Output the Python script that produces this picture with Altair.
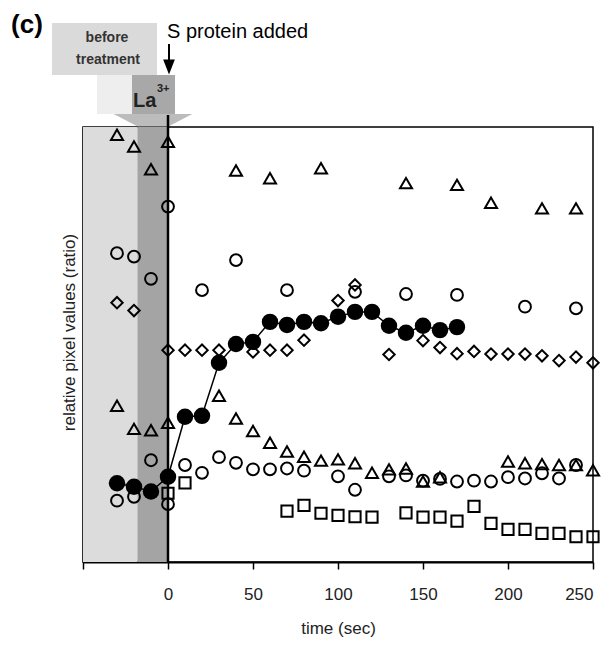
import altair as alt
import pandas as pd

# ---------------- data (time in sec, relative pixel value, arbitrary 0-100 units) ----
filled_t = [-30, -20, -10, 0, 10, 20, 30, 40, 50, 60, 70, 80, 90, 100, 110, 120, 130, 140, 150, 160, 170]
filled_v = [18.1, 17.3, 16.2, 19.6, 33.4, 33.6, 45.8, 50.1, 50.6, 55.2, 54.5, 55.2, 54.9, 56.4, 57.5, 57.5, 54.3, 52.7, 54.3, 53.3, 54.0]

tri_hi_t = [-30, -20, -10, 0, 40, 60, 90, 140, 170, 190, 220, 240]
tri_hi_v = [98.2, 95.5, 90.3, 96.6, 90.0, 88.2, 90.5, 87.1, 86.7, 82.6, 81.3, 81.3]

circ_hi_t = [-30, -20, -10, 0, 20, 40, 70, 110, 140, 170, 210, 240]
circ_hi_v = [71.0, 70.2, 65.1, 81.7, 62.5, 69.4, 62.5, 62.1, 61.6, 61.4, 58.7, 58.3]

diam_t = [-30, -20, 0, 10, 20, 30, 50, 60, 70, 80, 100, 110, 130, 150, 160, 170, 180, 190, 200, 210, 220, 230, 240, 250]
diam_v = [59.6, 57.8, 48.7, 48.7, 48.7, 48.7, 48.3, 48.7, 48.7, 51.0, 60.1, 63.7, 47.7, 50.9, 49.3, 47.9, 48.4, 47.8, 47.8, 47.8, 47.4, 46.3, 47.1, 45.8]

tri_lo_t = [-30, -20, -10, 0, 30, 40, 50, 60, 70, 80, 90, 100, 110, 120, 130, 140, 150, 160, 200, 210, 220, 230, 240, 250]
tri_lo_v = [35.9, 30.6, 30.3, 32.0, 38.2, 33.0, 30.1, 27.4, 25.4, 24.2, 23.3, 23.6, 22.7, 20.5, 21.3, 21.5, 18.5, 19.5, 23.1, 22.7, 22.5, 22.3, 22.3, 21.1]

circ_lo_t = [-30, -20, -10, 0, 10, 20, 30, 40, 50, 60, 70, 80, 100, 110, 130, 140, 150, 160, 170, 180, 190, 200, 210, 220, 230, 240]
circ_lo_v = [14.1, 15.0, 23.4, 13.3, 22.3, 20.5, 24.1, 22.8, 21.3, 21.3, 21.5, 21.0, 19.7, 16.6, 19.7, 19.9, 18.7, 19.1, 18.5, 18.7, 18.5, 19.5, 19.2, 20.4, 19.2, 22.3]

sq_t = [0, 10, 70, 80, 90, 100, 110, 120, 140, 150, 160, 170, 180, 190, 200, 210, 220, 230, 240, 250]
sq_v = [15.8, 18.2, 11.7, 13.0, 11.2, 10.7, 10.4, 10.3, 11.3, 10.3, 10.3, 9.4, 12.8, 8.9, 7.5, 7.5, 6.6, 6.6, 5.8, 5.8]

# shaded periods: before treatment, La3+ treatment
shade_start = [-50, -18]
shade_end = [-18, 0]
shade_color = ["#dcdcdc", "#a4a4a4"]

x_ticks = [-50, 0, 50, 100, 150, 200, 250]

FONT = "Liberation Sans"
W, H = 510, 435
X0 = 85  # pixel position of t = 0 inside the plot

xscale = alt.Scale(domain=[-50, 250], nice=False, zero=False)
yscale = alt.Scale(domain=[0, 100], nice=False, zero=False)

xaxis = alt.Axis(
    values=x_ticks,
    labelExpr="datum.value == -50 ? '' : datum.label",
    title="time (sec)",
    grid=False,
    tickSize=7, tickColor="black", tickWidth=1.5,
    domainColor="black", domainWidth=2,
    labelFont=FONT, labelFontSize=17, labelColor="#222", labelPadding=17,
    titleFont=FONT, titleFontSize=17, titleColor="#222", titleFontWeight="normal",
    titleBaseline="alphabetic", titleY=71,
)
yaxis = alt.Axis(
    labels=False, ticks=False, grid=False,
    domainColor="black", domainWidth=1.5,
    title="relative pixel values (ratio)",
    titleFont=FONT, titleFontSize=17, titleColor="#222", titleFontWeight="normal",
    titleAngle=270, titleAlign="center", titleBaseline="middle",
    titleX=-14, titleY=205,
)

X = alt.X("t:Q", scale=xscale, axis=xaxis)
Y = alt.Y("v:Q", scale=yscale, axis=yaxis)

one = pd.DataFrame({"a": [0]})

# shaded background bands
shade_df = pd.DataFrame({"s": shade_start, "e": shade_end, "c": shade_color})
shade = alt.Chart(shade_df).mark_rect().encode(
    x=alt.X("s:Q", scale=xscale, axis=xaxis),
    x2="e:Q",
    y=alt.Y(datum=0, scale=yscale, axis=yaxis),
    y2=alt.Y2(datum=100),
    color=alt.Color("c:N", scale=None),
)

zero_line = alt.Chart(one).mark_rule(color="black", strokeWidth=2.5).encode(
    x=alt.X(datum=0), y=alt.Y(datum=0), y2=alt.Y2(datum=100)
)


def open_pts(t, v, shape, size):
    df = pd.DataFrame({"t": t, "v": v})
    return alt.Chart(df).mark_point(
        shape=shape, size=size, filled=False, color="black", strokeWidth=2, opacity=1
    ).encode(x=X, y=Y)


filled_df = pd.DataFrame({"t": filled_t, "v": filled_v})
filled_line = alt.Chart(filled_df).mark_line(color="black", strokeWidth=1.5).encode(x=X, y=Y)
filled_pts = alt.Chart(filled_df).mark_point(
    shape="circle", size=270, filled=True, color="black", opacity=1
).encode(x=X, y=Y)

# ---------------- header annotations (pixel positions relative to plot) ----------
def box(x1, x2, y1, y2, color):
    return alt.Chart(one).mark_rect(color=color).encode(
        x=alt.value(x1), x2=alt.value(x2), y=alt.value(y1), y2=alt.value(y2)
    )


def label(x, y, txt, size, weight="normal", align="center", color="#111"):
    return alt.Chart(one).mark_text(
        text=txt, font=FONT, fontSize=size, fontWeight=weight, align=align,
        baseline="alphabetic", color=color
    ).encode(x=alt.value(x), y=alt.value(y))


before_box = box(-31, 74, -104, -52, "#dadada")
stem = box(14, 49, -52, -13, "#eeeeee")
la_box = box(49, 92, -52, -13, "#a8a8a8")
gray_head = alt.Chart(one).mark_point(
    shape="M-1,-0.15 L1,-0.15 L0.4,0.16 L-0.4,0.16 Z",
    size=6200, filled=True, color="#bcbcbc", opacity=1, strokeWidth=0
).encode(x=alt.value(70), y=alt.value(-7))

arrow_shaft = alt.Chart(one).mark_rule(color="black", strokeWidth=2).encode(
    x=alt.value(X0 + 1), y=alt.value(-83), y2=alt.value(-64)
)
arrow_head = alt.Chart(one).mark_point(
    shape="M-1,-1.28 L1,-1.28 L0,1.28 Z", size=137, filled=True,
    color="black", opacity=1, strokeWidth=0
).encode(x=alt.value(X0 + 1), y=alt.value(-60))
short_line = alt.Chart(one).mark_rule(color="black", strokeWidth=2.5).encode(
    x=alt.value(X0), y=alt.value(-12), y2=alt.value(0)
)

txt_c = label(-56, -94, "(c)", 26, weight="bold", color="black")
txt_s = label(84, -89, "S protein added", 20, align="left", color="black")
txt_before = label(24, -85, "before", 14, weight="bold", color="#333")
txt_treat = label(25, -63, "treatment", 14, weight="bold", color="#333")
txt_la = label(50, -20, "La", 20, weight="bold", align="left", color="#222")
txt_la3 = label(74, -35, "3+", 11, weight="bold", align="left", color="#222")

chart = alt.layer(
    shade,
    zero_line,
    open_pts(tri_hi_t, tri_hi_v, "triangle-up", 145),
    open_pts(circ_hi_t, circ_hi_v, "circle", 140),
    open_pts(diam_t, diam_v, "diamond", 130),
    open_pts(tri_lo_t, tri_lo_v, "triangle-up", 145),
    open_pts(circ_lo_t, circ_lo_v, "circle", 140),
    open_pts(sq_t, sq_v, "square", 125),
    filled_line,
    filled_pts,
    before_box, stem, la_box, gray_head, short_line,
    arrow_shaft, arrow_head,
    txt_c, txt_s, txt_before, txt_treat, txt_la, txt_la3,
).properties(
    width=W, height=H,
    autosize=alt.AutoSizeParams(type="none"),
    padding={"left": 75, "top": 119, "right": 10, "bottom": 75},
    background="white",
).configure_view(stroke="black", strokeWidth=1.5)

chart.save("out.html", embed_options={"renderer": "svg", "actions": False})
